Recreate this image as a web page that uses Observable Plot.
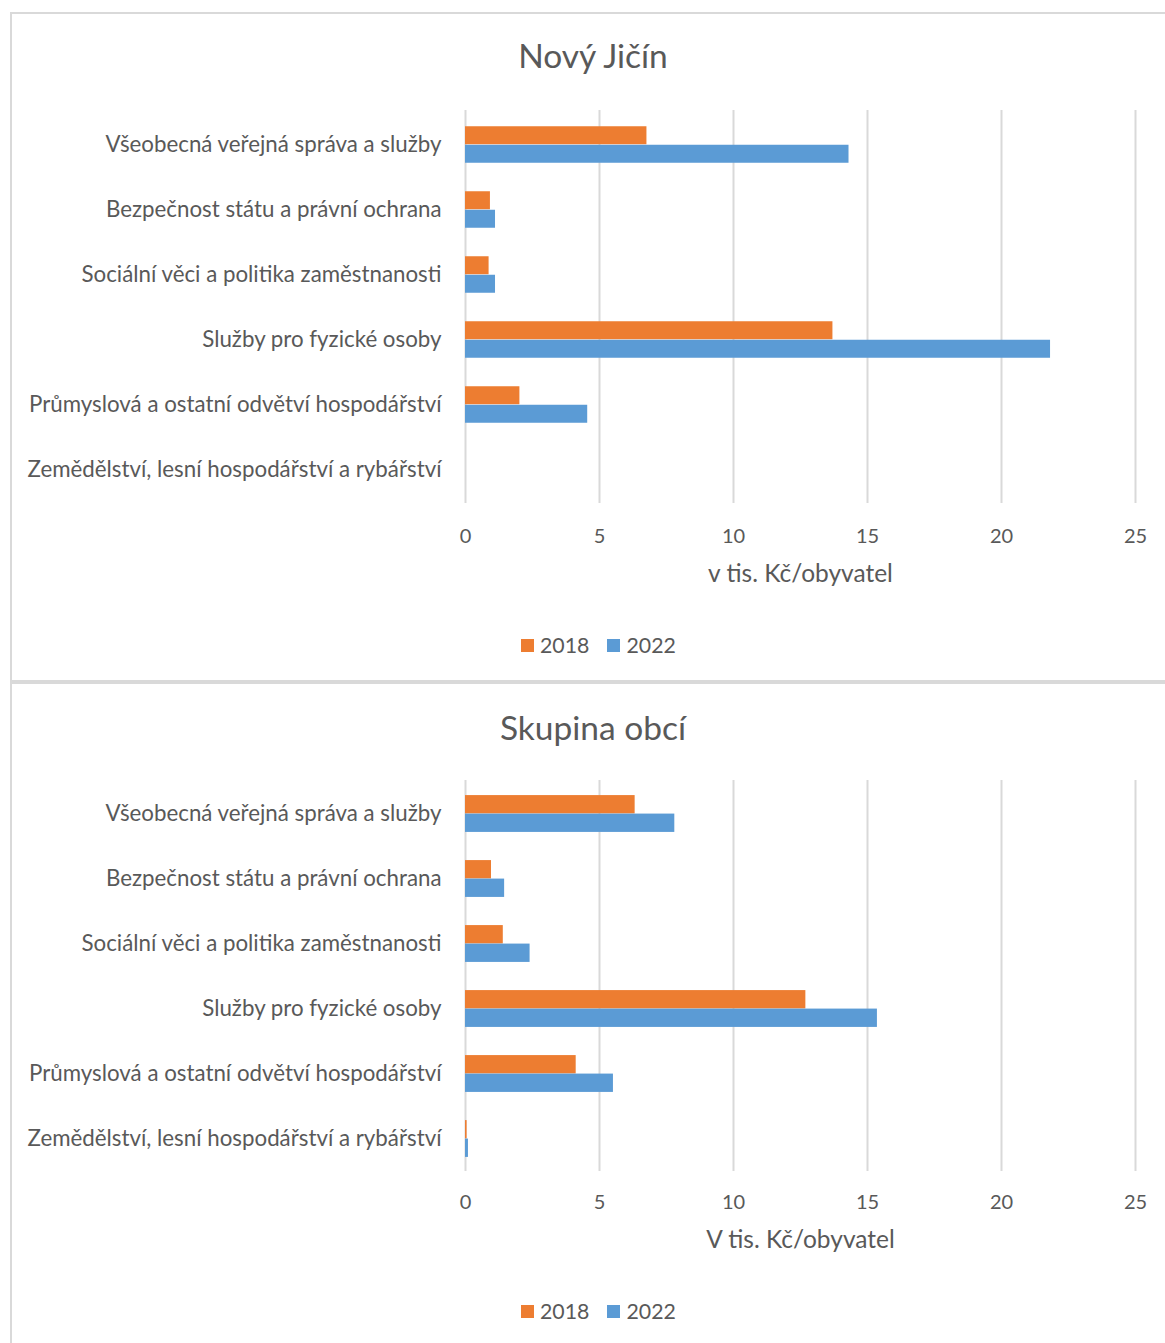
<!DOCTYPE html>
<html><head><meta charset="utf-8">
<script src="https://cdn.jsdelivr.net/npm/d3@7"></script>
<script src="https://cdn.jsdelivr.net/npm/@observablehq/plot@0.6"></script>
<style>
  html,body{margin:0;padding:0;background:#fff;}
  body{width:1165px;height:1343px;overflow:hidden;position:relative;font-family:Lato,"Open Sans",sans-serif;color:#595959;}
  .panel{position:absolute;left:10px;width:1175px;border:2px solid #d9d9d9;box-sizing:border-box;}
  .title{position:absolute;left:10px;width:1166px;text-align:center;font-size:33.5px;line-height:40px;}
  .chart{position:absolute;left:0;}
  .legend{position:absolute;left:521px;display:flex;align-items:center;font-size:21.3px;line-height:24px;}
  .sw{display:inline-block;width:13px;height:13px;margin-right:6px;}
  .item{display:flex;align-items:center;margin-right:18px;}
  svg [aria-label^="y-axis"] text{font-size:22.3px;}
</style>
</head><body>
<div class="panel" style="top:12px;height:670px;"></div>
<div class="panel" style="top:682px;height:700px;"></div>
<div id="root"></div>
<script>
const categories = [
  "Všeobecná veřejná správa a služby",
  "Bezpečnost státu a právní ochrana",
  "Sociální věci a politika zaměstnanosti",
  "Služby pro fyzické osoby",
  "Průmyslová a ostatní odvětví hospodářství",
  "Zemědělství, lesní hospodářství a rybářství"
];
const years = ["2018", "2022"];
const yearColors = ["#ED7D31", "#5B9BD5"];
const novyJicin2018 = [6.77, 0.93, 0.88, 13.71, 2.03, 0];
const novyJicin2022 = [14.31, 1.12, 1.12, 21.83, 4.56, 0];
const skupina2018 = [6.33, 0.97, 1.41, 12.70, 4.13, 0.06];
const skupina2022 = [7.81, 1.46, 2.41, 15.37, 5.52, 0.11];
const xTicks = [0, 5, 10, 15, 20, 25];
const titles = ["Nový Jičín", "Skupina obcí"];
const axisLabels = ["v tis. Kč/obyvatel", "V tis. Kč/obyvatel"];

const root = document.getElementById("root");

function panel({title, v2018, v2022, axisLabel, titleTop, svgTop, plotH, marginBottom, tickPad, labelDy, legendTop}) {
  const t = document.createElement("div");
  t.className = "title";
  t.style.top = (titleTop - 20) + "px";
  t.textContent = title;
  root.appendChild(t);

  const d18 = categories.map((c, i) => ({category: c, year: years[0], value: v2018[i]}));
  const d22 = categories.map((c, i) => ({category: c, year: years[1], value: v2022[i]}));
  const band = plotH / categories.length;
  const barH = 18.5;
  const marginTop = 20;
  const chart = Plot.plot({
    width: 1165,
    height: marginTop + plotH + marginBottom,
    marginTop,
    marginBottom,
    marginLeft: 465,
    marginRight: 30,
    style: {fontFamily: "Lato, 'Open Sans', sans-serif", fontSize: "20px", color: "#595959", background: "transparent", overflow: "visible"},
    x: {domain: [0, 25], ticks: xTicks, tickSize: 0, tickPadding: tickPad, label: null},
    y: {domain: categories, padding: 0, tickSize: 0, tickPadding: 24, label: null},
    color: {domain: years, range: yearColors},
    marks: [
      Plot.ruleX(xTicks, {stroke: "#d9d9d9", strokeWidth: 2}),
      Plot.barX(d18, {x: "value", y: "category", fill: d => d.year, insetTop: band / 2 - barH, insetBottom: band / 2}),
      Plot.barX(d22, {x: "value", y: "category", fill: d => d.year, insetTop: band / 2, insetBottom: band / 2 - barH}),
      Plot.text([axisLabel], {frameAnchor: "bottom", dy: labelDy, lineAnchor: "middle", fill: "#595959", fontSize: 24.5})
    ]
  });
  chart.classList.add("chart");
  chart.style.top = svgTop + "px";
  root.appendChild(chart);

  const lg = document.createElement("div");
  lg.className = "legend";
  lg.style.top = (legendTop - 12) + "px";
  years.forEach((y, i) => {
    const it = document.createElement("div");
    it.className = "item";
    const sw = document.createElement("span");
    sw.className = "sw";
    sw.style.background = yearColors[i];
    it.appendChild(sw);
    it.appendChild(document.createTextNode(y));
    lg.appendChild(it);
  });
  root.appendChild(lg);
}

panel({title: titles[0], v2018: novyJicin2018, v2022: novyJicin2022, axisLabel: axisLabels[0],
  titleTop: 55, svgTop: 90, plotH: 393, marginBottom: 110, tickPad: 25, labelDy: 71, legendTop: 645});
panel({title: titles[1], v2018: skupina2018, v2022: skupina2022, axisLabel: axisLabels[1],
  titleTop: 727, svgTop: 760, plotH: 391, marginBottom: 100, tickPad: 23, labelDy: 69, legendTop: 1311});
</script>
</body></html>
